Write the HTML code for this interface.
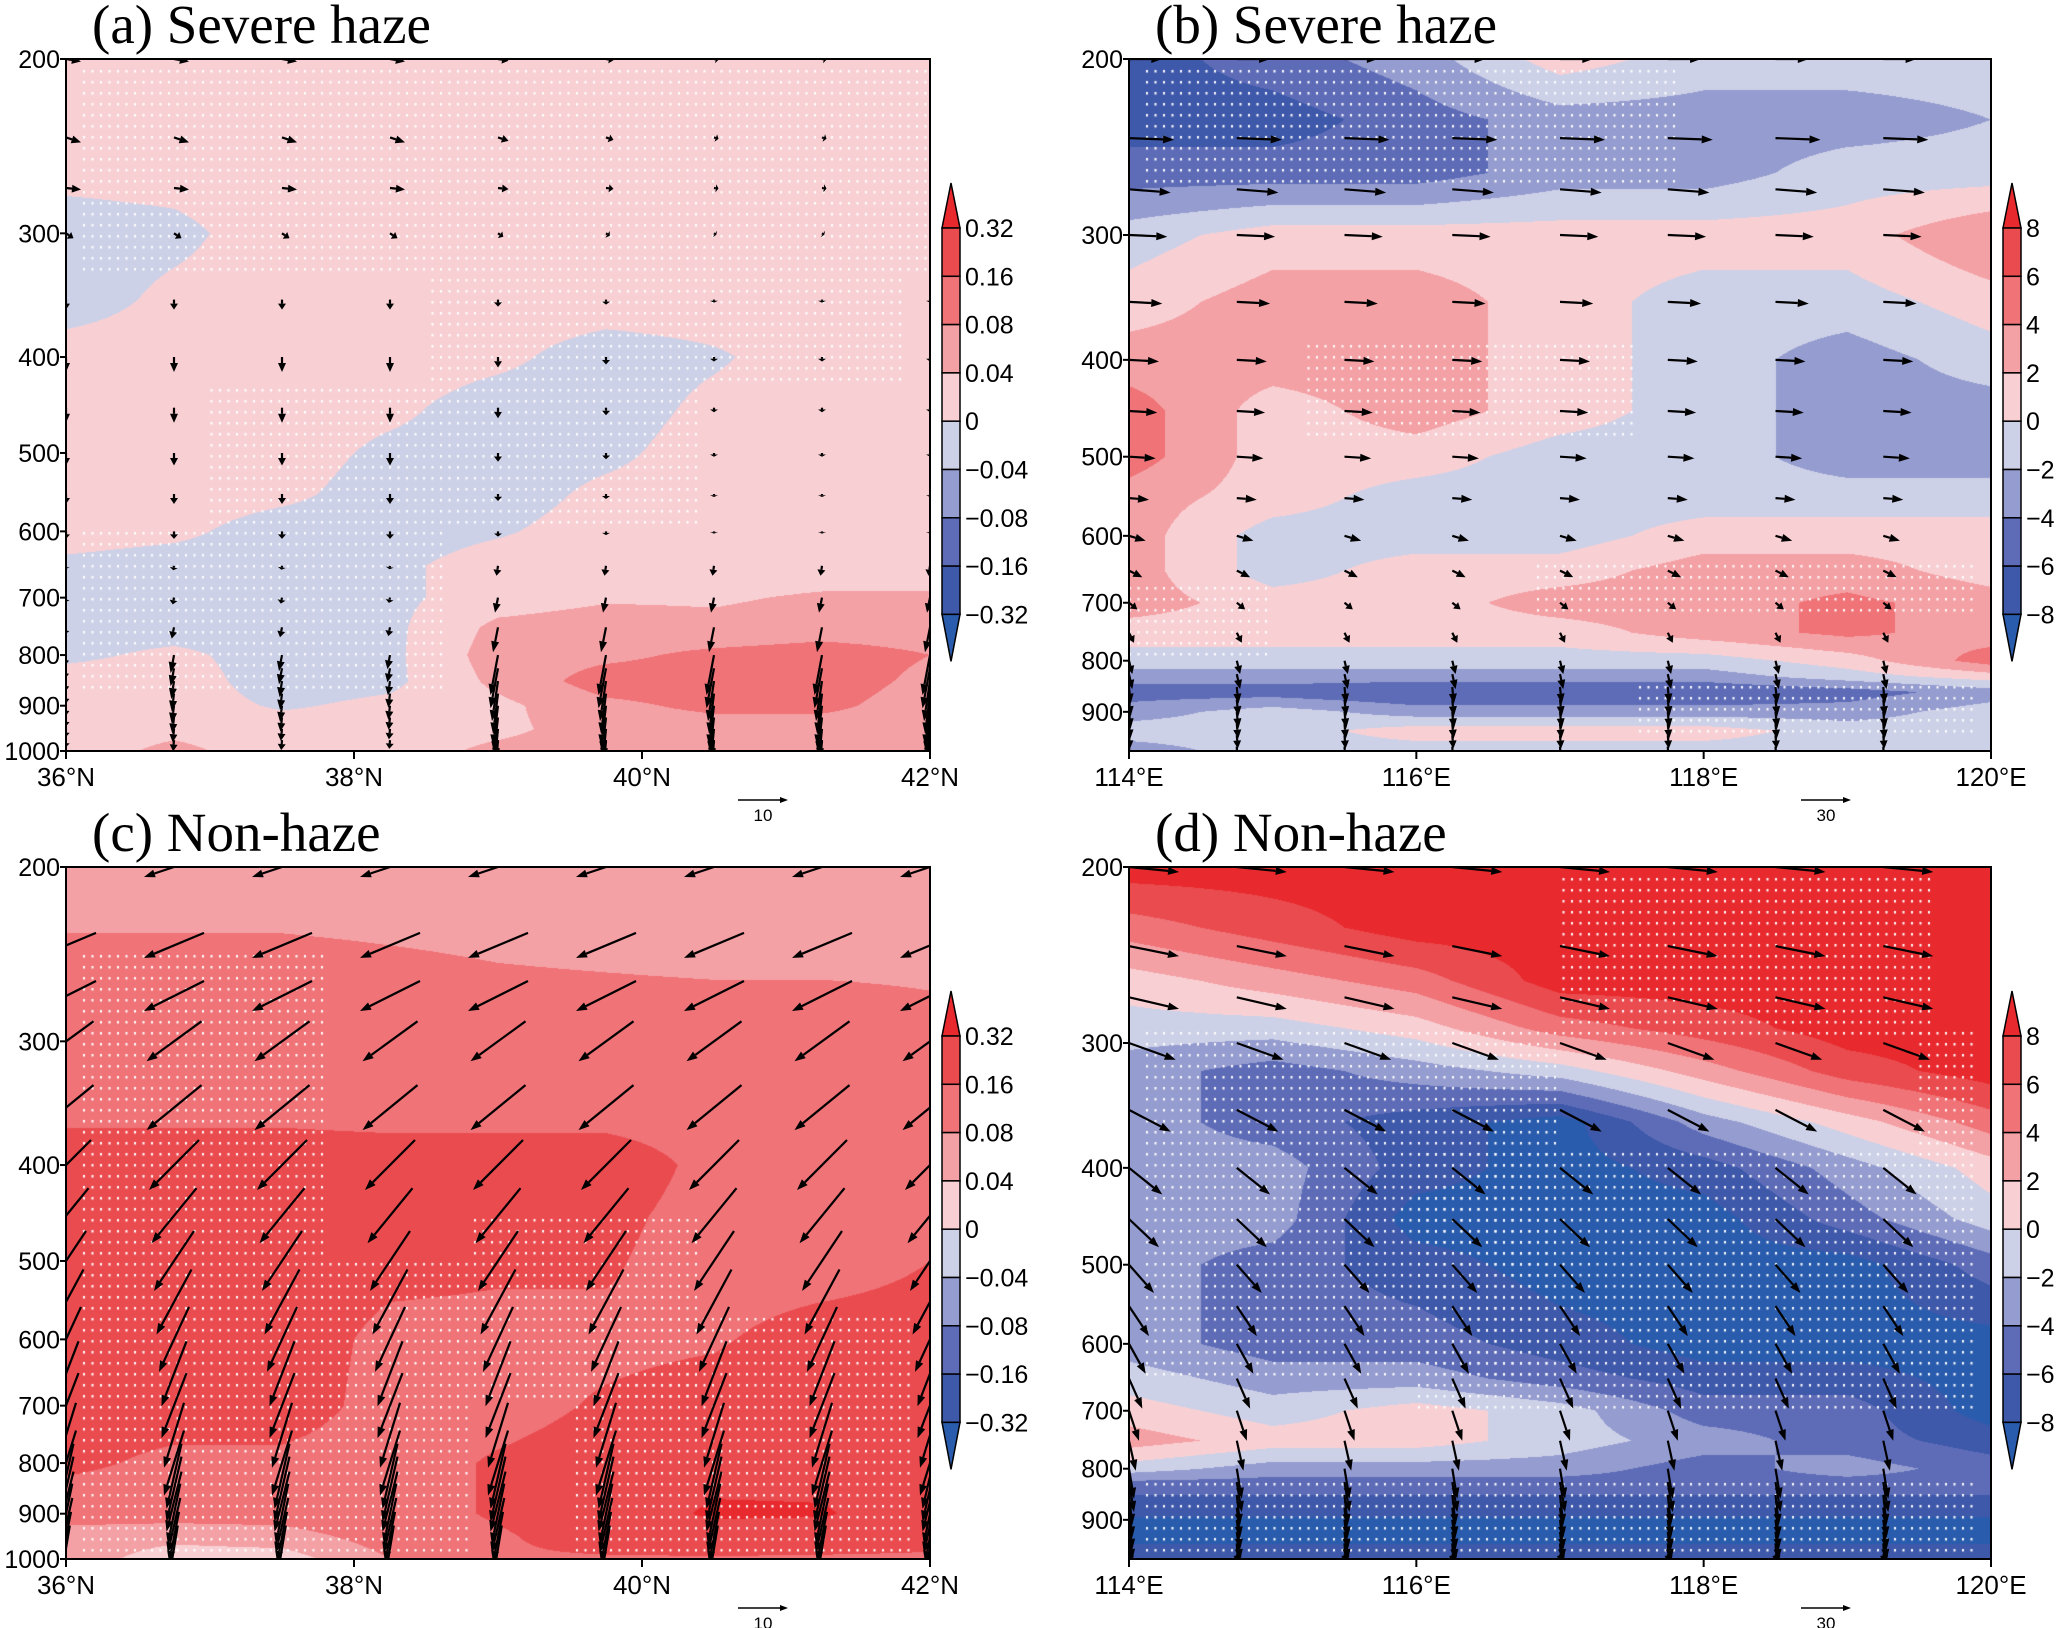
<!DOCTYPE html>
<html><head><meta charset="utf-8">
<style>
html,body{margin:0;padding:0;background:#fff;}
#wrap{position:relative;width:2067px;height:1628px;overflow:hidden;background:#fff;}
canvas{position:absolute;}
svg{position:absolute;left:0;top:0;}
</style></head>
<body>
<div id="wrap">
<canvas id="ca"></canvas>
<canvas id="cb"></canvas>
<canvas id="cc"></canvas>
<canvas id="cd"></canvas>
<svg id="ov" width="2067" height="1628"></svg>
</div>
<script>
// ---------- data ----------
const latCols = [36,36.75,37.5,38.25,39,39.75,40.5,41.25,42];
const lonCols = [114,115,116,117,118,119,120];
const pRowsA = [200,250,300,350,400,450,500,550,600,650,700,750,800,850,900,950,1000];
const fieldA = [
[.02,.02,.02,.02,.02,.02,.02,.02,.02],
[.02,.02,.02,.02,.02,.02,.02,.02,.02],
[-.02,-.01,.02,.02,.02,.02,.02,.02,.02],
[-.02,.01,.02,.02,.02,.02,.02,.02,.02],
[.02,.02,.02,.02,.01,-.02,-.005,.02,.02],
[.02,.02,.02,.01,-.02,-.02,.01,.02,.02],
[.02,.02,.02,-.01,-.02,-.01,.02,.02,.02],
[.02,.02,.01,-.02,-.02,.01,.02,.02,.02],
[.02,.01,-.02,-.02,-.005,.02,.02,.02,.02],
[-.01,-.02,-.02,-.01,.02,.02,.02,.02,.02],
[-.02,-.02,-.02,-.01,.02,.035,.035,.045,.045],
[-.02,-.02,-.02,-.01,.05,.06,.05,.06,.06],
[-.01,.01,-.02,-.01,.06,.07,.09,.1,.08],
[.02,.02,-.02,-.01,.05,.1,.1,.1,.07],
[.02,.02,-.005,.01,.03,.07,.09,.09,.06],
[.02,.03,.02,.02,.03,.06,.06,.06,.06],
[.02,.05,.02,.02,.05,.06,.06,.06,.06]];
const pRowsC = [200,250,300,350,400,450,500,600,700,800,900,950,1000];
const fieldC = [
[.06,.06,.06,.06,.06,.06,.06,.06,.06],
[.09,.09,.09,.085,.08,.075,.07,.07,.07],
[.12,.12,.12,.12,.12,.12,.12,.12,.1],
[.14,.14,.14,.13,.13,.13,.13,.12,.12],
[.2,.2,.2,.2,.2,.2,.14,.12,.12],
[.2,.2,.2,.2,.2,.18,.13,.12,.12],
[.2,.2,.2,.18,.17,.17,.12,.12,.16],
[.2,.2,.2,.14,.14,.14,.15,.2,.2],
[.2,.2,.2,.13,.13,.17,.2,.22,.22],
[.18,.14,.14,.12,.17,.2,.25,.25,.2],
[.1,.1,.1,.12,.17,.2,.35,.34,.2],
[.06,.05,.06,.1,.15,.2,.22,.2,.18],
[.06,.02,.02,.08,.15,.15,.15,.15,.15]];
const pRowsB = [200,230,260,300,350,400,450,500,550,600,650,700,750,800,830,860,900,940,985];
const fieldB = [
[-7,-5,-3,1,-1,-1,-1],
[-7,-7,-5,-3,-3,-3,-2],
[-5,-5,-5,-3,-3,-1,-1],
[-1,1,1,1,1,1,4],
[1,3,3,1,-1,-1,1],
[3,3,3,1,-1,-3,-1],
[5,1,3,1,-1,-3,-3],
[5,1,1,-1,-1,-3,-3],
[3,1,-1,-1,-1,-1,-1],
[3,-1,-1,-1,1,1,1],
[3,-1,1,1,3,3,1],
[3,1,1,3,3,4.5,3],
[1,1,1,1,3,4.5,3],
[-1,-1,-1,-1,-1,1,5],
[-3,-3,-3,-3,-3,-1,1],
[-5,-5,-6,-6,-6,-5,-3],
[-3,-1,-3,-3,-3,-3,-1],
[-1,-1,1,1,1,-1,-1],
[-3,-1,-1,-1,-1,-1,-1]];
const pRowsD = [200,230,260,290,320,360,400,450,500,600,650,700,750,800,830,870,920,985];
const fieldD = [
[9,9,9,9,9,9,9],
[5,7,9,9,9,9,9],
[1,3,5,9,9,9,9],
[-1,-1,1,5,7,9,9],
[-3,-5,-3,-1,3,7,9],
[-3,-5,-7,-9,-3,1,5],
[-3,-3,-7,-9,-7,-3,1],
[-3,-3,-9,-9,-9,-5,-1],
[-3,-5,-7,-9,-9,-9,-5],
[-3,-5,-5,-7,-9,-9,-9],
[-1,-3,-3,-5,-7,-7,-9],
[1,-1,1,-1,-5,-5,-9],
[3,1,1,-1,-3,-5,-7],
[-1,-3,-3,-3,-5,-3,-5],
[-5,-5,-5,-5,-5,-5,-5],
[-7,-7,-7,-7,-7,-7,-7],
[-9,-9,-9,-9,-9,-9,-9],
[-7,-7,-7,-7,-7,-7,-7]];
const levelsAC = [-0.32,-0.16,-0.08,-0.04,0,0.04,0.08,0.16,0.32];
const levelsBD = [-8,-6,-4,-2,0,2,4,6,8];
const labelsAC = ["0.32","0.16","0.08","0.04","0","\u22120.04","\u22120.08","\u22120.16","\u22120.32"];
const labelsBD = ["8","6","4","2","0","\u22122","\u22124","\u22126","\u22128"];
const palette = ["#2a5cae","#3e58aa","#5e6cb8","#959ccf","#cdd1e7","#f8d0d4","#f4a1a5","#ef7377","#ea4b4f","#e8292d"];
// arrow data (u eastward, w downward, in reference-arrow units)
const arrColsA = [36,36.75,37.5,38.25,39,39.75,40.5,41.25,42];
const arrColsB = [114,114.75,115.5,116.25,117,117.75,118.5,119.25];
const arrRows = [200,240,270,300,350,400,450,500,550,600,650,700,750,800,825,850,875,900,925,950,975];
const uA = [3,3,3,1.5,0,0,0,0,0,0,-0.3,-0.6,-1,-1.5,-1.5,-1.2,-1,-1,-0.8,-0.6,-0.4];
const wA = [0.5,1,0.3,1,2,3,3,2.5,2,1.5,2,3,5,8,8,8,8,8,7,6,5];
const colHighA = [1,1,1,1,0.7,0.5,0.3,0.3,0.3];
const colLowA = [0.3,0.45,0.4,0.35,1,1,1,1,1];
const uC = [-12,-12,-12,-11,-11,-10,-9,-8,-7,-6,-5,-5,-4,-4,-3,-3,-3,-2.5,-2.5,-2,-1.5];
const wC = [4,5,6,8,9,10,11,12,13,13,13,13,13,13,13,13,12,12,11,10,9];
const uB = [20,27,25,23,20,18,17,16,12,10,8,5,3,2,2,1,1,1,0.8,0.6,0.4];
const wB = [0,1,2,1,1,1,1,1,1,3,4,4,6,8,9,10,10,10,9,8,7];
const uD = [30,30,30,28,25,20,18,15,12,10,8,6,4,3,3,2,2,2,2,1,1];
const wD = [3,6,7,10,13,16,17,17,18,18,18,18,18,18,18,18,18,18,17,14,12];
// stipple regions [x1,x2,p1,p2]
const stipA = [[36.1,42,205,330],[38.5,41.8,330,420],[37,40.4,420,600],[36.1,38.6,600,880]];
const stipB = [[114.1,117.8,205,265],[115.2,117.5,380,480],[114,115,660,790],[116.8,119.9,640,720],[117.5,119.9,830,960]];
const stipC = [[36.1,37.8,240,1000],[37.8,38.8,500,990],[39.5,41.9,560,990],[38.8,40.4,450,700]];
const stipD = [[117,119.6,205,300],[114.1,117,290,650],[116,119.9,380,700],[114.1,119.9,820,975],[119.5,119.9,290,380]];

// ---------- layout ----------
const panels = [
 {id:'a',cv:'ca',x0:66,y0:59,w:864,h:692,xs:latCols,ps:pRowsA,f:fieldA,lev:levelsAC,labs:labelsAC,xmin:36,xmax:42,pb:1000,
  xt:[36,38,40,42],xl:["36°N","38°N","40°N","42°N"],yt:[200,300,400,500,600,700,800,900,1000],title:"(a) Severe haze",
  ac:arrColsA,uv:uA,wv:wA,ref:"10",stip:stipA},
 {id:'b',cv:'cb',x0:1129,y0:59,w:862,h:692,xs:lonCols,ps:pRowsB,f:fieldB,lev:levelsBD,labs:labelsBD,xmin:114,xmax:120,pb:985,
  xt:[114,116,118,120],xl:["114°E","116°E","118°E","120°E"],yt:[200,300,400,500,600,700,800,900],title:"(b) Severe haze",
  ac:arrColsB,uv:uB,wv:wB,ref:"30",stip:stipB},
 {id:'c',cv:'cc',x0:66,y0:867,w:864,h:692,xs:latCols,ps:pRowsC,f:fieldC,lev:levelsAC,labs:labelsAC,xmin:36,xmax:42,pb:1000,
  xt:[36,38,40,42],xl:["36°N","38°N","40°N","42°N"],yt:[200,300,400,500,600,700,800,900,1000],title:"(c) Non-haze",
  ac:arrColsA,uv:uC,wv:wC,ref:"10",stip:stipC},
 {id:'d',cv:'cd',x0:1129,y0:867,w:862,h:692,xs:lonCols,ps:pRowsD,f:fieldD,lev:levelsBD,labs:labelsBD,xmin:114,xmax:120,pb:985,
  xt:[114,116,118,120],xl:["114°E","116°E","118°E","120°E"],yt:[200,300,400,500,600,700,800,900],title:"(d) Non-haze",
  ac:arrColsB,uv:uD,wv:wD,ref:"30",stip:stipD}
];
const NS='http://www.w3.org/2000/svg';
const ov=document.getElementById('ov');
function mk(tag,attrs,parent){const e=document.createElementNS(NS,tag);for(const k in attrs)e.setAttribute(k,attrs[k]);(parent||ov).appendChild(e);return e;}
function seg(arr,v){let i=0;while(i<arr.length-2&&v>arr[i+1])i++;let t=(v-arr[i])/(arr[i+1]-arr[i]);t=Math.max(0,Math.min(1,t));return [i,t];}
function classOf(lev,v){let k=0;while(k<lev.length&&v>=lev[k])k++;return k;}
function hex(c){return [parseInt(c.slice(1,3),16),parseInt(c.slice(3,5),16),parseInt(c.slice(5,7),16)];}
const palRGB=palette.map(hex);
const defs=mk('defs',{});

panels.forEach(P=>{
  const X=x=>P.x0+(x-P.xmin)/(P.xmax-P.xmin)*P.w;
  const L=Math.log(P.pb/200);
  const Y=p=>P.y0+Math.log(p/200)/L*P.h;
  // contour fill
  const cv=document.getElementById(P.cv);
  cv.width=P.w;cv.height=P.h;cv.style.left=P.x0+'px';cv.style.top=P.y0+'px';
  const ctx=cv.getContext('2d');const img=ctx.createImageData(P.w,P.h);
  const colIdx=[];for(let px=0;px<P.w;px++){colIdx.push(seg(P.xs,P.xmin+(px+0.5)/P.w*(P.xmax-P.xmin)));}
  for(let py=0;py<P.h;py++){
    const p=200*Math.exp((py+0.5)/P.h*L);const [j,tj]=seg(P.ps,p);
    for(let px=0;px<P.w;px++){
      const [i,ti]=colIdx[px];
      const v=(P.f[j][i]*(1-ti)+P.f[j][i+1]*ti)*(1-tj)+(P.f[j+1][i]*(1-ti)+P.f[j+1][i+1]*ti)*tj;
      const c=palRGB[classOf(P.lev,v)];const o=(py*P.w+px)*4;
      img.data[o]=c[0];img.data[o+1]=c[1];img.data[o+2]=c[2];img.data[o+3]=255;
    }
  }
  ctx.putImageData(img,0,0);
  // stipple
  ctx.fillStyle='#ffffff';
  P.stip.forEach(r=>{
    const x1=X(r[0])-P.x0,x2=X(r[1])-P.x0,y1=Y(r[2])-P.y0,y2=Y(r[3])-P.y0;
    for(let y=Math.ceil(y1/11)*11;y<y2;y+=11)for(let x=Math.ceil(x1/8.5)*8.5;x<x2;x+=8.5)ctx.fillRect(x,y,2,2.5);
  });
  const cp=mk('clipPath',{id:'clip-'+P.id},defs);
  mk('rect',{x:P.x0,y:P.y0,width:P.w,height:P.h},cp);
  const g=mk('g',{});
  
  
  // arrows
  const ag=mk('g',{stroke:'#000','stroke-width':2.2,fill:'#000','clip-path':'url(#clip-'+P.id+')'},g);
  
  
  const scale=50/(P.ref==="10"?10:30);
  P.ac.forEach((cx,ci)=>{
    P.uv.forEach((uu,ri)=>{
      const p=arrRows[ri];if(p>P.pb)return;
      let s=1;
      if(P.id==='a'){s=p<650?colHighA[ci]:colLowA[ci];}
      const dx=uu*scale*s;
      const ddy=P.wv[ri]*scale*s;
      let x1=X(cx),y1=Y(p);
      if(P.id==='c'){x1-=dx/2;y1-=ddy/2;}
      const x2=x1+dx,y2=y1+ddy;
      const len=Math.hypot(dx,ddy);if(len<1)return;
      const ux=dx/len,uy=ddy/len,hl=Math.min(11,len*0.6),hw=4;
      const bx=x2-ux*hl,by=y2-uy*hl;
      const ln=mk('line',{x1:x1.toFixed(1),y1:y1.toFixed(1),x2:bx.toFixed(1),y2:by.toFixed(1)},ag);
      
      
      const hd=mk('polygon',{points:`${x2.toFixed(1)},${y2.toFixed(1)} ${(bx-uy*hw).toFixed(1)},${(by+ux*hw).toFixed(1)} ${(bx+uy*hw).toFixed(1)},${(by-ux*hw).toFixed(1)}`,stroke:'none'},ag);
      
      
    });
  });
  // frame
  const fr=mk('rect',{x:P.x0,y:P.y0,width:P.w,height:P.h,fill:'none',stroke:'#000','stroke-width':2},g);
  
  
  // y ticks
  P.yt.forEach(p=>{
    const y=Y(p);
    mk('line',{x1:P.x0-6,y1:y,x2:P.x0,y2:y,stroke:'#000','stroke-width':2},g);
    const t=mk('text',{x:P.x0-6,y:y+9,'text-anchor':'end','font-family':'Liberation Sans, sans-serif','font-size':25},g);
    t.textContent=p;
    
    
  });
  P.xt.forEach((v,k)=>{
    const x=X(v);
    mk('line',{x1:x,y1:P.y0+P.h,x2:x,y2:P.y0+P.h+8,stroke:'#000','stroke-width':2},g);
    const t=mk('text',{x:x,y:P.y0+P.h+35,'text-anchor':'middle','font-family':'Liberation Sans, sans-serif','font-size':26},g);
    t.textContent=P.xl[k];
    
    
  });
  // title
  const tt=mk('text',{x:P.x0+26,y:P.y0-16,'font-family':'Liberation Serif, serif','font-size':55},g);
  tt.textContent=P.title;
  
  
  // reference vector
  const rx=P.x0+672,ry=P.y0+P.h+49;
  mk('line',{x1:rx,y1:ry,x2:rx+44,y2:ry,stroke:'#000','stroke-width':1.5},g);
  mk('polygon',{points:`${rx+50},${ry} ${rx+42},${ry-3} ${rx+42},${ry+3}`,fill:'#000'},g);
  const rt=mk('text',{x:rx+25,y:ry+21,'text-anchor':'middle','font-family':'Liberation Sans, sans-serif','font-size':17},g);
  rt.textContent=P.ref;
  
  
  // colorbar
  const cbx=P.x0+P.w+12,cbw=18,top=P.y0+169,bh=48.3;
  const cb=mk('g',{},g);
  
  
  mk('polygon',{points:`${cbx},${top} ${cbx+cbw/2},${top-45} ${cbx+cbw},${top}`,fill:palette[9],stroke:'#000','stroke-width':1.5},cb);
  for(let k=0;k<8;k++){
    mk('rect',{x:cbx,y:top+k*bh,width:cbw,height:bh,fill:palette[8-k],stroke:'#000','stroke-width':1.5},cb);
  }
  mk('polygon',{points:`${cbx},${top+8*bh} ${cbx+cbw/2},${top+8*bh+47} ${cbx+cbw},${top+8*bh}`,fill:palette[0],stroke:'#000','stroke-width':1.5},cb);
  P.labs.forEach((s,k)=>{
    const t=mk('text',{x:cbx+cbw+5,y:top+k*bh+9,'font-family':'Liberation Sans, sans-serif','font-size':25},cb);
    t.textContent=s;
    
    
  });
});
</script>
</body></html>
